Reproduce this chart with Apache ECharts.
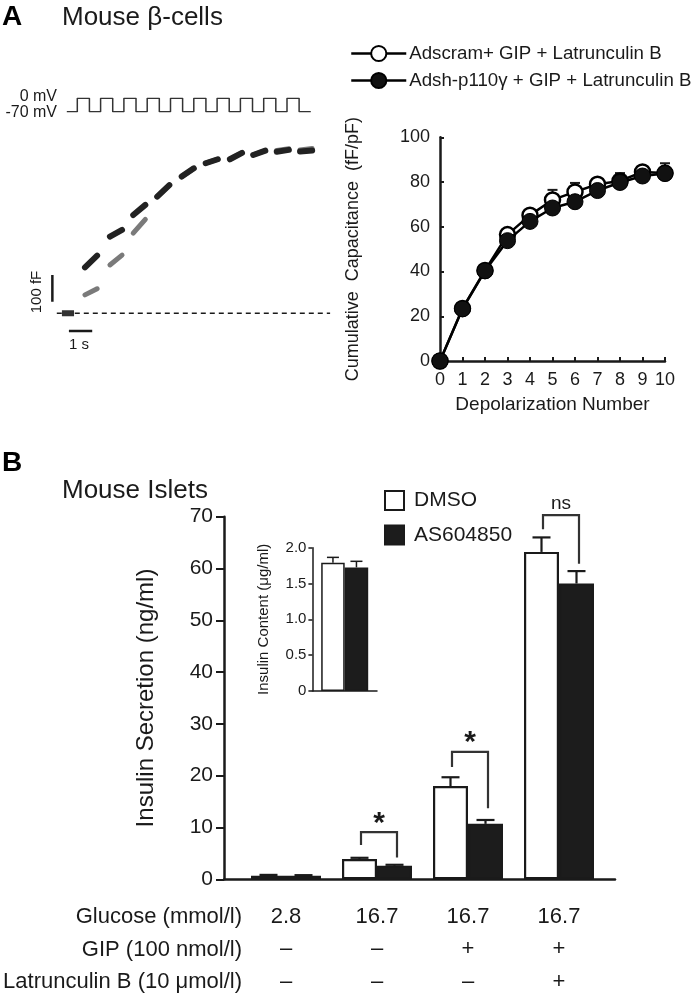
<!DOCTYPE html>
<html><head><meta charset="utf-8">
<script src="https://cdn.jsdelivr.net/npm/echarts@6/dist/echarts.min.js"></script>
<style>html,body{margin:0;padding:0;background:#fff}#c{width:693px;height:996px}</style>
</head><body><div id="c"></div>
<script>
// ---------- Panel A (left): voltage protocol ----------
const pulseStarts = [0, 1, 2, 3, 4, 5, 6, 7, 8, 9];   // s
const pulseWidth = 0.52;                               // s
const protocolRange = [-0.45, 10.02];                  // s
const holdingMV = -70, stepMV = 0;

// ---------- Panel A (left): capacitance trace (fF) ----------
const baselineSeg = [-0.66, -0.14];                     // s, value 0 fF
const segStart = [0.33, 1.40, 2.40, 3.43, 4.48, 5.51, 6.55, 7.55, 8.56, 9.56];
const segDur = 0.52;
const blackStartFF = [172, 287, 368, 437, 512, 562, 577, 593, 605, 606];
const blackEndFF   = [216, 312, 406, 480, 543, 577, 601, 609, 612, 610];
const grayStartFF  = [69, 181, 300, 437, 512, 562, 577, 593, 610, 612];
const grayEndFF    = [92, 218, 352, 480, 543, 577, 601, 609, 616, 617];
const dashedRange = [-0.88, 10.85];
const scaleBarFF = { t: -1.07, from: 43, to: 143 };     // 100 fF
const scaleBarT = { y: -66, from: -0.36, to: 0.64 };    // 1 s

// ---------- Panel A (right): cumulative capacitance ----------
const depolNumber = [0, 1, 2, 3, 4, 5, 6, 7, 8, 9, 10];
const adscram    = [0, 23.5, 40.5, 56.5, 65.2, 72.0, 75.6, 79.0, 80.5, 84.5, 84.0];
const adscramErr = [0, 1, 1, 2, 2, 4.5, 4, 2.5, 2.5, 2.5, 2.5];
const adsh       = [0, 23.3, 40.3, 53.8, 62.4, 68.4, 71.2, 76.2, 79.8, 82.7, 83.8];
const adshErr    = [0, 1, 1, 1.5, 1.5, 2, 2, 2, 4.2, 2.5, 4.6];
const nameAdscram = 'Adscram+ GIP + Latrunculin B';
const nameAdsh = 'Adsh-p110\u03b3 + GIP + Latrunculin B';

// ---------- Panel B: insulin secretion ----------
const groupKeys = ['G1', 'G2', 'G3', 'G4'];
const glucose = ['2.8', '16.7', '16.7', '16.7'];
const gip     = ['\u2013', '\u2013', '+', '+'];
const latB    = ['\u2013', '\u2013', '\u2013', '+'];
const rowHeaders = ['Glucose (mmol/l)', 'GIP (100 nmol/l)', 'Latrunculin B (10 \u03bcmol/l)'];
const dmso    = [0.7, 3.9, 18.0, 63.2];
const dmsoErr = [0.15, 0.25, 1.7, 2.8];
const as604   = [0.7, 2.6, 10.7, 57.1];
const as604Err= [0.1, 0.2, 0.75, 2.4];
const sigIndex = [1, 2, 3];
const sigTop   = [9.1, 24.6, 70.3];
const sigLeftEnd  = [6.6, 21.7, 67.6];
const sigRightEnd = [4.2, 13.7, 60.9];
const sigLabel = ['*', '*', 'ns'];
const sigLabelY = [12.1, 27.7, 72.5];

// ---------- Panel B inset: insulin content (µg/ml) ----------
const contentDmso = 1.79, contentDmsoErr = 0.075;
const contentAs = 1.725, contentAsErr = 0.085;

const FONT = 'Liberation Sans, Arial, Helvetica, sans-serif';
const INK = '#1a1a1a';

// build protocol polyline from pulse list
const protocolData = [[protocolRange[0], holdingMV]];
pulseStarts.forEach(s => {
  protocolData.push([s, holdingMV], [s, stepMV], [s + pulseWidth, stepMV], [s + pulseWidth, holdingMV]);
});
protocolData.push([protocolRange[1], holdingMV]);

const blackSegs = segStart.map((s, i) => [s, s + segDur, blackStartFF[i], blackEndFF[i]]);
const graySegs = segStart.map((s, i) => [s, s + segDur, grayStartFF[i], grayEndFF[i]]);

function segRender(width, color) {
  return function (params, api) {
    const p1 = api.coord([api.value(0), api.value(2)]);
    const p2 = api.coord([api.value(1), api.value(3)]);
    return { type: 'line', shape: { x1: p1[0], y1: p1[1], x2: p2[0], y2: p2[1] },
      style: { stroke: color, lineWidth: width, lineCap: 'round' } };
  };
}
function errRender(offset, capW, lw) {
  return function (params, api) {
    const base = api.coord([api.value(0), api.value(1)]);
    const top = api.coord([api.value(0), api.value(1) + api.value(2)]);
    const x = base[0] + offset;
    return { type: 'group', children: [
      { type: 'line', shape: { x1: x, y1: base[1], x2: x, y2: top[1] }, style: { stroke: INK, lineWidth: lw } },
      { type: 'line', shape: { x1: x - capW / 2, y1: top[1], x2: x + capW / 2, y2: top[1] }, style: { stroke: INK, lineWidth: lw } }
    ] };
  };
}
function bracketRender(params, api) {
  const c = api.coord([api.value(0), api.value(1)]);
  const l = api.coord([api.value(0), api.value(2)]);
  const r = api.coord([api.value(0), api.value(3)]);
  const t = api.coord([api.value(0), api.value(4)]);
  const xl = c[0] - 16, xr = c[0] + 20;
  const lab = sigLabel[params.dataIndex];
  const isStar = lab === '*';
  return { type: 'group', children: [
    { type: 'polyline', shape: { points: [[xl, l[1]], [xl, c[1]], [xr, c[1]], [xr, r[1]]] },
      style: { stroke: '#333', lineWidth: 2.2, fill: null } },
    { type: 'text', x: c[0] + 2, y: t[1] + (isStar ? 7 : 0),
      style: { text: lab, fill: INK, font: (isStar ? 'bold 30px ' : '19px ') + FONT, align: 'center', verticalAlign: 'middle' } }
  ] };
}

const chart = echarts.init(document.getElementById('c'), null, { renderer: 'canvas' });

const option = {
  backgroundColor: '#fff',
  animation: false,
  textStyle: { fontFamily: FONT, color: INK },
  grid: [
    { left: 49.34, width: 281.93, top: 98.3, height: 13.4, outerBoundsMode: 'none' },          // 0 protocol
    { left: 49.34, width: 281.93, top: 126.4, height: 213.6, outerBoundsMode: 'none' },        // 1 trace
    { left: 440, width: 225, top: 137.3, height: 223.7, outerBoundsMode: 'none' },             // 2 cumulative
    { left: 240.5, width: 364, top: 516.7, height: 362.6, outerBoundsMode: 'none' },           // 3 bars
    { left: 224, width: 391, top: 516.7, height: 362.6, outerBoundsMode: 'none' },             // 4 axis line helper
    { left: 312.4, width: 64.6, top: 547.7, height: 143.3, outerBoundsMode: 'none' }           // 5 inset
  ],
  xAxis: [
    { gridIndex: 0, type: 'value', min: -1.2, max: 10.9, show: false },
    { gridIndex: 1, type: 'value', min: -1.2, max: 10.9, show: false },
    { gridIndex: 2, type: 'value', min: 0, max: 10, interval: 1,
      name: 'Depolarization Number', nameLocation: 'middle', nameGap: 34,
      nameTextStyle: { fontSize: 19, color: INK, fontFamily: FONT },
      axisLine: { lineStyle: { color: INK, width: 2.5 } },
      axisTick: { inside: true, length: 4, lineStyle: { color: INK, width: 2 } },
      axisLabel: { fontSize: 18, color: INK, margin: 10, fontFamily: FONT },
      splitLine: { show: false } },
    { gridIndex: 3, type: 'category', data: groupKeys,
      axisLine: { show: false }, axisTick: { show: false },
      axisLabel: { interval: 0, margin: 21, fontSize: 22, lineHeight: 32.5, color: INK, fontFamily: FONT,
        formatter: (v, i) => glucose[i] + '\n' + gip[i] + '\n' + latB[i] } },
    { gridIndex: 4, type: 'value', min: 0, max: 1,
      axisLine: { show: true, lineStyle: { color: INK, width: 2.5 } },
      axisTick: { show: false }, axisLabel: { show: false }, splitLine: { show: false } },
    { gridIndex: 5, type: 'category', data: ['content'],
      axisLine: { lineStyle: { color: INK, width: 1.5 } }, axisTick: { show: false }, axisLabel: { show: false } }
  ],
  yAxis: [
    { gridIndex: 0, type: 'value', min: -70, max: 0, show: false },
    { gridIndex: 1, type: 'value', min: -100, max: 700, show: false },
    { gridIndex: 2, type: 'value', min: 0, max: 100, interval: 20,
      name: 'Cumulative  Capacitance  (fF/pF)', nameLocation: 'middle', nameGap: 78,
      nameTextStyle: { fontSize: 18, color: INK, fontFamily: FONT },
      axisLine: { show: true, lineStyle: { color: INK, width: 2.5 } },
      axisTick: { show: true, inside: true, length: 4, lineStyle: { color: INK, width: 2 } },
      axisLabel: { fontSize: 18, color: INK, margin: 10, fontFamily: FONT },
      splitLine: { show: false } },
    { gridIndex: 3, type: 'value', min: 0, max: 70, interval: 10, offset: 16.5,
      name: 'Insulin Secretion (ng/ml)', nameLocation: 'middle', nameGap: 66,
      nameTextStyle: { fontSize: 24, color: INK, fontFamily: FONT },
      axisLine: { show: true, lineStyle: { color: INK, width: 2.5 } },
      axisTick: { show: true, length: 8, lineStyle: { color: INK, width: 2 } },
      axisLabel: { fontSize: 21, color: INK, margin: 11, fontFamily: FONT },
      splitLine: { show: false } },
    { gridIndex: 4, type: 'value', min: 0, max: 1, show: false },
    { gridIndex: 5, type: 'value', min: 0, max: 2, interval: 0.5,
      name: 'Insulin Content (\u03bcg/ml)', nameLocation: 'middle', nameGap: 41,
      nameTextStyle: { fontSize: 15, color: INK, fontFamily: FONT },
      axisLine: { show: true, lineStyle: { color: INK, width: 1.5 } },
      axisTick: { show: true, length: 4, lineStyle: { color: INK, width: 1.5 } },
      axisLabel: { fontSize: 15, color: INK, margin: 6, fontFamily: FONT,
        formatter: v => (v === 0 ? '0' : v.toFixed(1)) },
      splitLine: { show: false } }
  ],
  legend: [
    { data: [nameAdscram, nameAdsh], orient: 'vertical', left: 350, top: 44, padding: 0,
      itemWidth: 55, itemHeight: 19, itemGap: 8,
      lineStyle: { width: 2.5, color: '#000' },
      textStyle: { fontSize: 18.7, color: INK, fontFamily: FONT, padding: [0, 0, 0, -2] }, selectedMode: false },
    { data: ['DMSO', 'AS604850'], orient: 'vertical', left: 384, top: 490, padding: 0,
      itemWidth: 19, itemHeight: 19, itemGap: 13.5, icon: 'rect',
      textStyle: { fontSize: 21, color: INK, fontFamily: FONT, padding: [0, 0, 0, 5] },
      selectedMode: false }
  ],
  series: [
    // --- Panel A left ---
    { type: 'line', xAxisIndex: 0, yAxisIndex: 0, data: protocolData, showSymbol: false,
      lineStyle: { color: '#333', width: 1.5 }, z: 2 },
    { type: 'line', xAxisIndex: 1, yAxisIndex: 1, data: [[dashedRange[0], 0], [dashedRange[1], 0]], showSymbol: false,
      lineStyle: { color: INK, width: 1.5, type: [5, 4] }, z: 2 },
    { type: 'line', xAxisIndex: 1, yAxisIndex: 1, data: [[baselineSeg[0], 0], [baselineSeg[1], 0]], showSymbol: false,
      lineStyle: { color: '#333', width: 6 }, z: 3 },
    { type: 'custom', xAxisIndex: 1, yAxisIndex: 1, data: graySegs, encode: { x: [0, 1], y: [2, 3] },
      renderItem: segRender(5, '#7a7a7a'), z: 3 },
    { type: 'custom', xAxisIndex: 1, yAxisIndex: 1, data: blackSegs, encode: { x: [0, 1], y: [2, 3] },
      renderItem: segRender(6, '#222'), z: 4 },
    { type: 'line', xAxisIndex: 1, yAxisIndex: 1, data: [[scaleBarFF.t, scaleBarFF.from], [scaleBarFF.t, scaleBarFF.to]],
      showSymbol: false, lineStyle: { color: INK, width: 2.5 } },
    { type: 'line', xAxisIndex: 1, yAxisIndex: 1, data: [[scaleBarT.from, scaleBarT.y], [scaleBarT.to, scaleBarT.y]],
      showSymbol: false, lineStyle: { color: INK, width: 2.5 } },
    // --- Panel A right ---
    { type: 'custom', xAxisIndex: 2, yAxisIndex: 2, data: depolNumber.map((x, i) => [x, adscram[i], adscramErr[i]]),
      renderItem: errRender(0, 10, 2), z: 1 },
    { type: 'custom', xAxisIndex: 2, yAxisIndex: 2, data: depolNumber.map((x, i) => [x, adsh[i], adshErr[i]]),
      renderItem: errRender(0, 10, 2), z: 1 },
    { name: nameAdscram, type: 'line', xAxisIndex: 2, yAxisIndex: 2, data: depolNumber.map((x, i) => [x, adscram[i]]),
      symbol: 'circle', symbolSize: 15, showAllSymbol: true,
      itemStyle: { color: '#fff', borderColor: '#000', borderWidth: 2.5 },
      lineStyle: { color: '#000', width: 2.5 }, z: 3 },
    { name: nameAdsh, type: 'line', xAxisIndex: 2, yAxisIndex: 2, data: depolNumber.map((x, i) => [x, adsh[i]]),
      symbol: 'circle', symbolSize: 16, showAllSymbol: true,
      itemStyle: { color: '#111', borderColor: '#000', borderWidth: 1 },
      lineStyle: { color: '#000', width: 2.5 }, z: 4 },
    // --- Panel B ---
    { name: 'DMSO', type: 'bar', xAxisIndex: 3, yAxisIndex: 3, data: dmso, barWidth: 35, barGap: '0%',
      itemStyle: { color: '#fff', borderColor: INK, borderWidth: 2.2 }, z: 2 },
    { name: 'AS604850', type: 'bar', xAxisIndex: 3, yAxisIndex: 3, data: as604, barWidth: 35, barGap: '0%',
      itemStyle: { color: '#1c1c1c', borderColor: INK, borderWidth: 2.2 }, z: 2 },
    { type: 'custom', xAxisIndex: 3, yAxisIndex: 3, data: dmso.map((v, i) => [i, v, dmsoErr[i]]),
      renderItem: errRender(-17.5, 18, 2.2), z: 3 },
    { type: 'custom', xAxisIndex: 3, yAxisIndex: 3, data: as604.map((v, i) => [i, v, as604Err[i]]),
      renderItem: errRender(17.5, 18, 2.2), z: 3 },
    { type: 'custom', xAxisIndex: 3, yAxisIndex: 3,
      data: sigIndex.map((g, i) => [g, sigTop[i], sigLeftEnd[i], sigRightEnd[i], sigLabelY[i]]),
      renderItem: bracketRender, z: 4 },
    // --- inset ---
    { name: 'DMSO', type: 'bar', xAxisIndex: 5, yAxisIndex: 5, data: [contentDmso], barWidth: 23.5, barGap: '0%',
      itemStyle: { color: '#fff', borderColor: INK, borderWidth: 1.5 }, z: 2 },
    { name: 'AS604850', type: 'bar', xAxisIndex: 5, yAxisIndex: 5, data: [contentAs], barWidth: 23.5, barGap: '0%',
      itemStyle: { color: '#1c1c1c', borderColor: INK, borderWidth: 1.5 }, z: 2 },
    { type: 'custom', xAxisIndex: 5, yAxisIndex: 5, data: [[0, contentDmso, contentDmsoErr]],
      renderItem: errRender(-11.75, 12, 1.5), z: 3 },
    { type: 'custom', xAxisIndex: 5, yAxisIndex: 5, data: [[0, contentAs, contentAsErr]],
      renderItem: errRender(11.75, 12, 1.5), z: 3 }
  ],
  graphic: [
    { type: 'text', x: 2, y: 17, style: { text: 'A', font: 'bold 28px ' + FONT, fill: '#000', align: 'left', verticalAlign: 'middle' } },
    { type: 'text', x: 62, y: 18, style: { text: 'Mouse \u03b2-cells', font: '26px ' + FONT, fill: INK, align: 'left', verticalAlign: 'middle' } },
    { type: 'text', x: 57, y: 97, style: { text: '0 mV', font: '16px ' + FONT, fill: INK, align: 'right', verticalAlign: 'middle' } },
    { type: 'text', x: 57, y: 113, style: { text: '-70 mV', font: '16px ' + FONT, fill: INK, align: 'right', verticalAlign: 'middle' } },
    { type: 'text', x: 37, y: 292, rotation: Math.PI / 2, style: { text: '100 fF', font: '15px ' + FONT, fill: INK, align: 'center', verticalAlign: 'middle' } },
    { type: 'text', x: 79, y: 345, style: { text: '1 s', font: '15px ' + FONT, fill: INK, align: 'center', verticalAlign: 'middle' } },
    { type: 'text', x: 2, y: 463, style: { text: 'B', font: 'bold 28px ' + FONT, fill: '#000', align: 'left', verticalAlign: 'middle' } },
    { type: 'text', x: 62, y: 491, style: { text: 'Mouse Islets', font: '26px ' + FONT, fill: INK, align: 'left', verticalAlign: 'middle' } },
    { type: 'text', x: 242, y: 916.7, style: { text: rowHeaders[0], font: '22px ' + FONT, fill: INK, align: 'right', verticalAlign: 'middle' } },
    { type: 'text', x: 242, y: 950, style: { text: rowHeaders[1], font: '22px ' + FONT, fill: INK, align: 'right', verticalAlign: 'middle' } },
    { type: 'text', x: 242, y: 981.7, style: { text: rowHeaders[2], font: '22px ' + FONT, fill: INK, align: 'right', verticalAlign: 'middle' } }
  ]
};
chart.setOption(option);
</script>
</body></html>
